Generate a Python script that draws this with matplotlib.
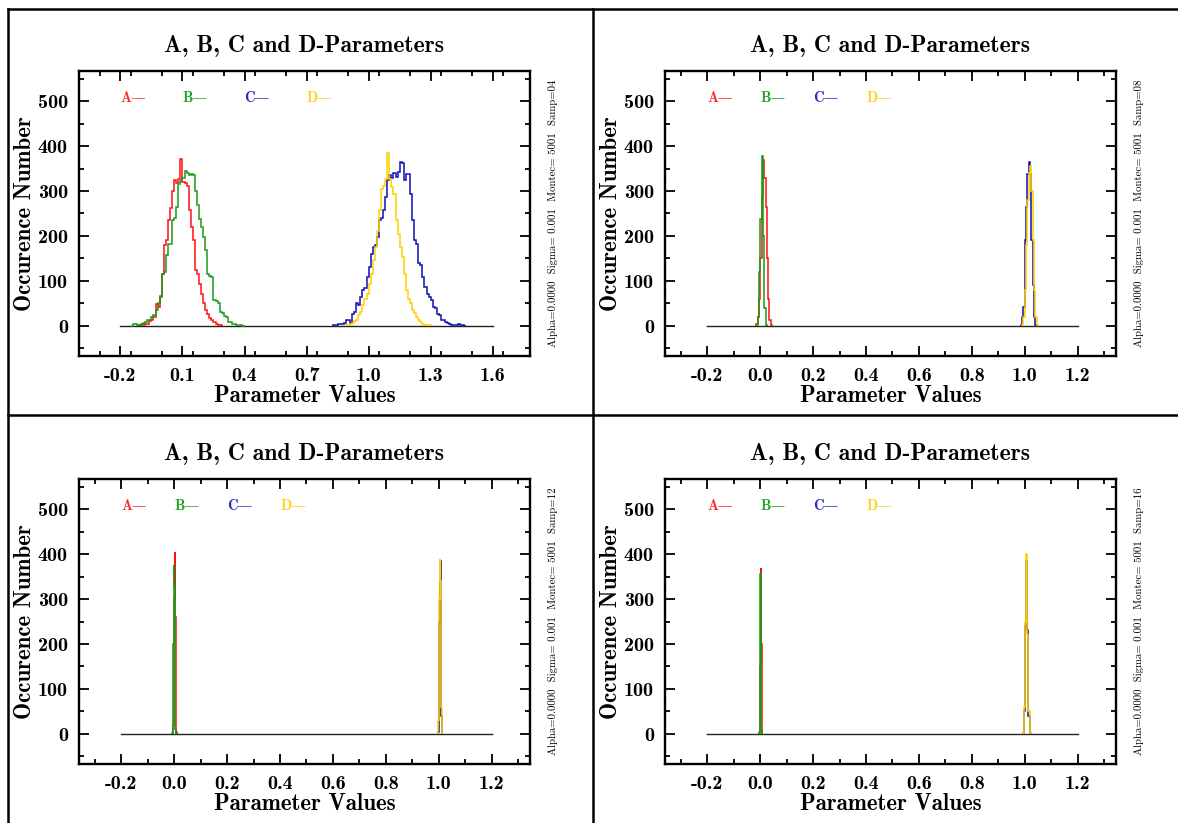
import numpy as np
import matplotlib
matplotlib.use('Agg')
import matplotlib.pyplot as plt
import matplotlib.ticker as ticker
from matplotlib.lines import Line2D

plt.rcParams['font.family'] = ['cmb10', 'DejaVu Serif']
plt.rcParams['axes.unicode_minus'] = False

# bin width and first bin edge for each histogram, then the counts
# panel 1 (Samp=04)
P1_A_START, P1_A_W = -0.11, 0.01
P1_A = [1, 2, 3, 5, 4, 10, 14, 20, 48, 42, 66, 115, 180, 190, 235, 262, 300, 325, 318, 326,
        372, 320, 318, 312, 257, 220, 190, 124, 116, 94, 70, 50, 35, 27, 18, 12, 8, 5, 2, 1]
P1_B_START, P1_B_W = -0.15, 0.01
P1_B = [0, 5, 5, 1, 2, 5, 7, 9, 12, 14, 20, 24, 36, 50, 64, 116, 120, 157, 183, 183,
        235, 240, 264, 316, 322, 330, 344, 340, 335, 338, 336, 301, 270, 238, 220, 198, 168, 116, 112, 109,
        58, 55, 50, 31, 28, 22, 20, 9, 8, 5, 4, 3, 2, 1, 0]
P1_C_START, P1_C_W = 0.83, 0.01
P1_C = [1, 2, 4, 5, 5, 6, 13, 12, 7, 27, 30, 50, 46, 64, 79, 85, 109, 131, 161, 175,
        179, 198, 235, 240, 257, 287, 324, 335, 330, 340, 331, 342, 364, 362, 324, 338, 337, 294, 235, 190,
        183, 139, 135, 109, 87, 72, 65, 57, 42, 40, 27, 24, 14, 12, 9, 6, 5, 2, 1, 1, 5, 3, 1, 0]
P1_D_START, P1_D_W = 0.89, 0.01
P1_D = [1, 2, 5, 7, 10, 13, 25, 30, 46, 60, 70, 94, 116, 146, 175, 210, 257, 305, 312, 327,
        385, 327, 309, 294, 235, 205, 175, 153, 116, 79, 60, 50, 35, 28, 20, 12, 9, 5, 3, 2, 1]

# panel 2 (Samp=08)
P2_A_START, P2_A_W = -0.015, 0.005
P2_A = [5, 20, 60, 150, 290, 368, 330, 264, 150, 60, 13, 3]
P2_B_START, P2_B_W = -0.015, 0.005
P2_B = [2, 20, 120, 238, 379, 200, 40, 3]
P2_C_START, P2_C_W = 0.985, 0.005
P2_C = [3, 20, 42, 190, 264, 338, 364, 338, 190, 90, 20, 3]
P2_D_START, P2_D_W = 0.99, 0.005
P2_D = [3, 20, 80, 180, 280, 340, 356, 300, 190, 80, 20, 3]

# panel 3 (Samp=12)
P3_A_START, P3_A_W = -0.006, 0.002
P3_A = [2, 20, 150, 300, 405, 260, 60, 5]
P3_B_START, P3_B_W = -0.008, 0.002
P3_B = [3, 40, 200, 375, 330, 120, 10]
P3_C_START, P3_C_W = 0.998, 0.002
P3_C = [5, 80, 250, 350, 385, 220, 40, 3]
P3_D_START, P3_D_W = 0.996, 0.002
P3_D = [3, 30, 150, 300, 389, 340, 200, 60, 8]

# panel 4 (Samp=16)
P4_A_START, P4_A_W = -0.002, 0.002
P4_A = [5, 150, 370, 200, 10]
P4_B_START, P4_B_W = -0.004, 0.002
P4_B = [5, 150, 355, 180, 8]
P4_C_START, P4_C_W = 0.994, 0.004
P4_C = [2, 50, 240, 385, 230, 40, 2]
P4_D_START, P4_D_W = 0.994, 0.004
P4_D = [3, 60, 250, 400, 220, 50, 3]

SAMPS = ['04', '08', '12', '16']
XTICKS_P1 = [-0.2, 0.1, 0.4, 0.7, 1.0, 1.3, 1.6]
XTICKS_P234 = [-0.2, 0.0, 0.2, 0.4, 0.6, 0.8, 1.0, 1.2]
XLIM_P1 = (-0.40, 1.78)
XLIM_P234 = (-0.36, 1.345)
YLIM = (-67, 567)
YTICKS = [0, 100, 200, 300, 400, 500]

LABELS = ['A', 'B', 'C', 'D']
LINE_COLORS = ['#ff1010', '#189a18', '#1010b4', '#ffd000']
TEXT_COLORS = ['#ff2a2a', '#22a022', '#2a2acc', '#ffd21a']

W, H = 1178, 823


def draw_panel(ax, hists, xticks, xlim, minor_x, samp):
    ax.plot([xticks[0], xticks[-1]], [0, 0], color='#222222', linewidth=1.0, zorder=1)
    for (start, width, counts), color in zip(hists, LINE_COLORS):
        edges = start + width * np.arange(len(counts) + 1)
        ax.stairs(counts, edges, color=color, linewidth=1.1, zorder=2)

    ax.set_xlim(xlim)
    ax.set_ylim(YLIM)
    ax.set_xticks(xticks)
    ax.set_yticks(YTICKS)
    ax.xaxis.set_minor_locator(ticker.MultipleLocator(minor_x))
    ax.yaxis.set_minor_locator(ticker.MultipleLocator(50))
    ax.xaxis.set_major_formatter(ticker.FormatStrFormatter('%.1f'))
    ax.tick_params(which='both', direction='in', top=True, right=True, width=1.3, labelsize=14.5, pad=8)
    ax.tick_params(which='major', length=7)
    ax.tick_params(which='minor', length=3.5)
    for sp in ax.spines.values():
        sp.set_linewidth(1.7)

    for k, (lab, col) in enumerate(zip(LABELS, TEXT_COLORS)):
        ax.text(xticks[k], 506, lab + '\u2014', color=col, fontsize=10.5, ha='left', va='center')

    ax.set_title('A, B, C and D-Parameters', fontsize=17, pad=14)
    ax.set_xlabel('Parameter Values', fontsize=16.5, labelpad=0)
    ax.set_ylabel('Occurence Number', fontsize=16.5, labelpad=1)
    ax.text(1.052, 0.5, f'Alpha=0.0000  Sigma= 0.001  Montec= 5001  Samp={samp}',
            transform=ax.transAxes, rotation=90, ha='center', va='center',
            fontsize=7.8, family=['cmr10', 'DejaVu Serif'])


fig = plt.figure(figsize=(W / 100, H / 100), dpi=100)

boxes = [(79, 71), (665, 71), (79, 479), (665, 479)]
ax_w, ax_h = 451, 285
axes = [fig.add_axes([x / W, 1 - (y + ax_h) / H, ax_w / W, ax_h / H]) for x, y in boxes]

panels = [
    [(P1_A_START, P1_A_W, P1_A), (P1_B_START, P1_B_W, P1_B), (P1_C_START, P1_C_W, P1_C), (P1_D_START, P1_D_W, P1_D)],
    [(P2_A_START, P2_A_W, P2_A), (P2_B_START, P2_B_W, P2_B), (P2_C_START, P2_C_W, P2_C), (P2_D_START, P2_D_W, P2_D)],
    [(P3_A_START, P3_A_W, P3_A), (P3_B_START, P3_B_W, P3_B), (P3_C_START, P3_C_W, P3_C), (P3_D_START, P3_D_W, P3_D)],
    [(P4_A_START, P4_A_W, P4_A), (P4_B_START, P4_B_W, P4_B), (P4_C_START, P4_C_W, P4_C), (P4_D_START, P4_D_W, P4_D)],
]

for i, ax in enumerate(axes):
    if i == 0:
        draw_panel(ax, panels[i], XTICKS_P1, XLIM_P1, 0.15, SAMPS[i])
    else:
        draw_panel(ax, panels[i], XTICKS_P234, XLIM_P234, 0.1, SAMPS[i])

# frame lines around the four panels
frame = dict(color='black', linewidth=1.8, transform=fig.transFigure)
fig.add_artist(Line2D([8 / W, 1], [1 - 9 / H, 1 - 9 / H], **frame))
fig.add_artist(Line2D([8 / W, 8 / W], [0, 1 - 9 / H], **frame))
fig.add_artist(Line2D([593 / W, 593 / W], [0, 1 - 9 / H], **frame))
fig.add_artist(Line2D([8 / W, 1], [1 - 415 / H, 1 - 415 / H], **frame))

fig.savefig('out.png', dpi=100)
